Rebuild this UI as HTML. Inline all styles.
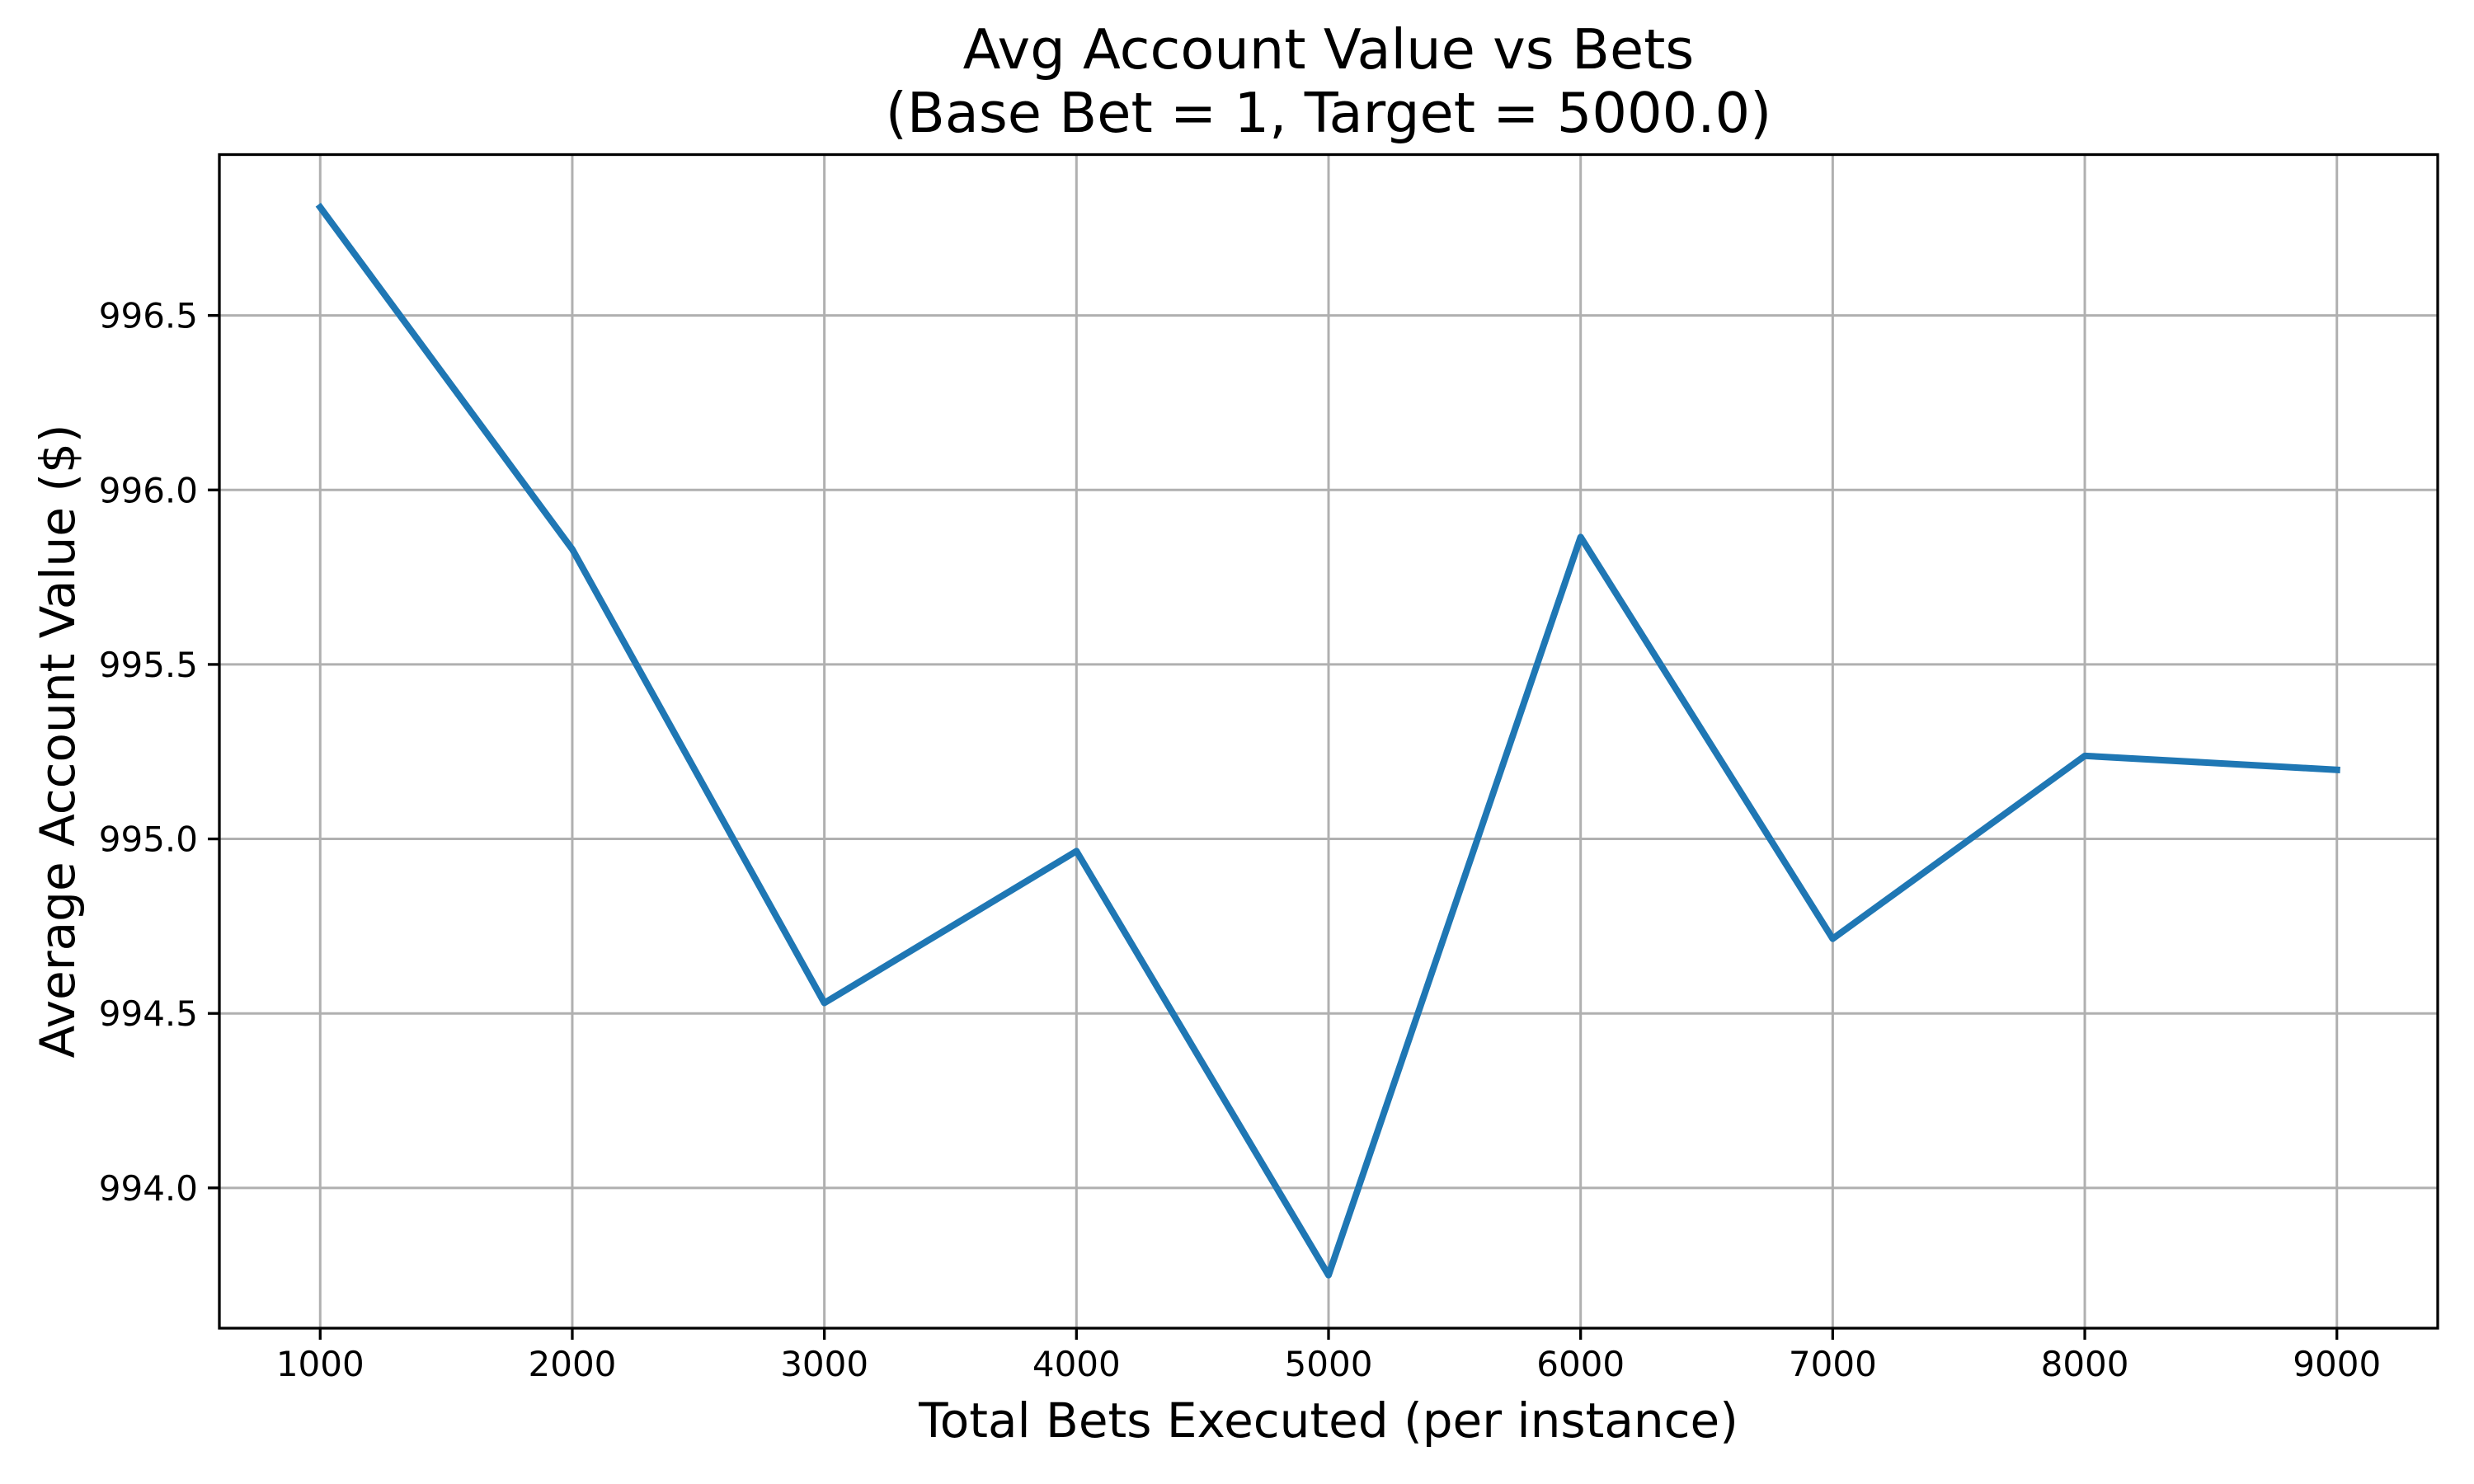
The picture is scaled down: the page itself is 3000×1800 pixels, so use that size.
<!DOCTYPE html>
<html><head><meta charset="utf-8"><style>
html,body{margin:0;padding:0;background:#fff;}
svg{display:block;font-family:"DejaVu Sans","Liberation Sans",sans-serif;}
</style></head><body>
<svg id="chart" width="3000" height="1800" viewBox="0 0 3000 1800">
<rect width="3000" height="1800" fill="#fff"/>
<g id="grid"></g>
<g id="ticks"></g>
<g id="series"></g>
<rect x="266" y="187.5" width="2690" height="1423.5" fill="none" stroke="#000" stroke-width="3.3"/>
<text x="1611" y="83" font-size="67" text-anchor="middle">Avg Account Value vs Bets</text>
<text x="1611" y="160" font-size="67" text-anchor="middle">(Base Bet = 1, Target = 5000.0)</text>
<text x="1611" y="1743" font-size="58" text-anchor="middle">Total Bets Executed (per instance)</text>
<text transform="translate(90,899) rotate(-90)" font-size="58" text-anchor="middle">Average Account Value ($)</text>
</svg>
<script>
const categories=[1000,2000,3000,4000,5000,6000,7000,8000,9000];
const values=[996.81,995.83,994.53,994.965,993.75,995.865,994.714,995.238,995.198];
const xTicks=[1000,2000,3000,4000,5000,6000,7000,8000,9000];
const yTicks=[994.0,994.5,995.0,995.5,996.0,996.5];
const L=266,R=2956,T=187.5,B=1611;
const xMin=600,xMax=9400,yMin=993.598,yMax=996.961;
const xs=v=>L+(v-xMin)/(xMax-xMin)*(R-L);
const ys=v=>B-(v-yMin)/(yMax-yMin)*(B-T);
const NS="http://www.w3.org/2000/svg";
const g=document.getElementById('grid'),tk=document.getElementById('ticks'),s=document.getElementById('series');
function mk(tag,attrs,parent){const e=document.createElementNS(NS,tag);for(const k in attrs)e.setAttribute(k,attrs[k]);parent.appendChild(e);return e;}
xTicks.forEach(v=>{const x=xs(v);
const gl=mk('line',{x1:x,x2:x,y1:T,y2:B,stroke:'#b0b0b0','stroke-width':3},g);


const t=mk('line',{x1:x,x2:x,y1:B,y2:B+14,stroke:'#000','stroke-width':3.3},tk);


const lb=mk('text',{x:x,y:B+58,'font-size':42,'text-anchor':'middle'},tk);lb.textContent=v;

});
yTicks.forEach(v=>{const y=ys(v);
const gl=mk('line',{x1:L,x2:R,y1:y,y2:y,stroke:'#b0b0b0','stroke-width':3},g);


const t=mk('line',{x1:L-14,x2:L,y1:y,y2:y,stroke:'#000','stroke-width':3.3},tk);


const lb=mk('text',{x:L-26,y:y+15,'font-size':42,'text-anchor':'end'},tk);lb.textContent=v.toFixed(1);

});
const pts=categories.map((c,i)=>xs(c)+','+ys(values[i])).join(' ');
const pl=mk('polyline',{points:pts,fill:'none',stroke:'#1f77b4','stroke-width':8,'stroke-linejoin':'round','stroke-linecap':'square'},s);


</script>
</body></html>
